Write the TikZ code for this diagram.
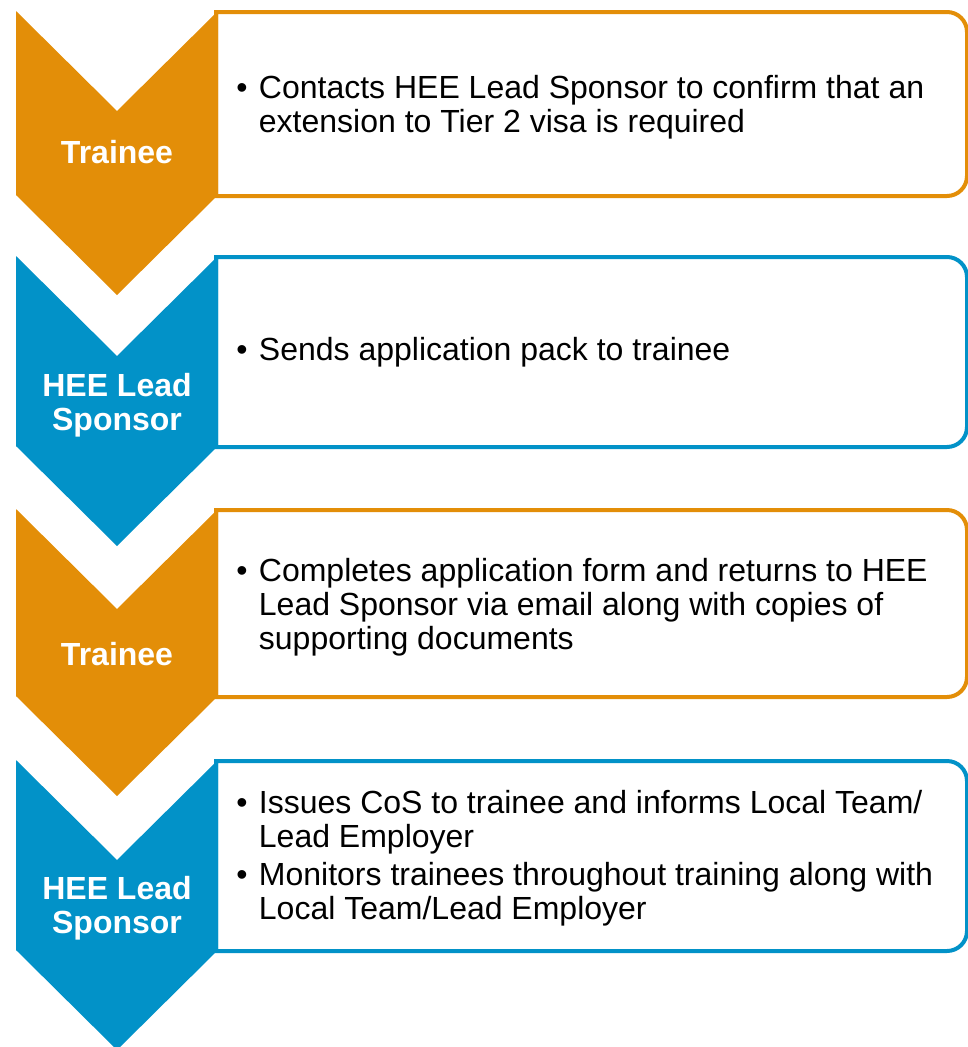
\documentclass[tikz,border=0pt]{standalone}
\usepackage{fontspec}
\setmainfont{Liberation Sans}
\usepackage{tikz}
\usetikzlibrary{positioning}
\definecolor{trainee}{RGB}{227,142,8}
\definecolor{sponsor}{RGB}{2,146,200}
\newlength{\bulw}
\setlength{\bulw}{17pt}
\newcommand{\bul}{\makebox[\bulw][l]{\textbullet}}
\newcommand{\ind}{\hspace*{\bulw}}
\tikzset{
    %Define style for chevron labels
    who/.style={
           text=white,
           font=\bfseries\fontsize{24}{25.5}\selectfont,
           align=center,
           inner sep=0pt},
    %Define style for step texts
    what/.style={
           anchor=west,
           align=left,
           font=\fontsize{24}{25.5}\selectfont,
           inner sep=0pt},
    %Define style for step boxes
    stepbox/.style={
           draw=#1,
           line width=3pt,
           fill=white}
}
\begin{document}
\begin{tikzpicture}[x=0.75pt,y=-0.75pt]
\useasboundingbox (0,0) rectangle (968,1047);
 %boxes and chevrons
\foreach \t/\s/\c in {11/195/trainee, 256/446/sponsor, 509/696/trainee, 760/950/sponsor}{
  \draw[stepbox=\c] (216,\t+1) -- (800,\t+1) {[rounded corners=15pt] -- (967,\t+1) -- (967,\s+1) -- (800,\s+1)}
      -- (216,\s+1) -- cycle;
  \fill[\c] (16,\t) -- (117,\t+100) -- (218,\t) -- (218,\s) -- (117,\s+100) -- (16,\s) -- cycle;
}
 %labels
\node[who] (l1) at (117,152) {Trainee};
\node[who] (l2) at (117,405) {HEE Lead\\Sponsor};
\node[who] (l3) at (117,654) {Trainee};
\node[who] (l4) at (117,908) {HEE Lead\\Sponsor};
 %texts
\node[what] (t1) at (236,107) {\bul Contacts HEE Lead Sponsor to confirm that an\\\ind extension to Tier 2 visa is required};
\node[what] (t2) at (236,352) {\bul Sends application pack to trainee};
\node[what] (t3) at (236,607) {\bul Completes application form and returns to HEE\\\ind Lead Sponsor via email along with copies of\\\ind supporting documents};
\node[what] (t4) at (236,858) {\bul Issues CoS to trainee and informs Local Team/\\\ind Lead Employer\\[3pt]\bul Monitors trainees throughout training along with\\\ind Local Team/Lead Employer};
\end{tikzpicture}
\end{document}
